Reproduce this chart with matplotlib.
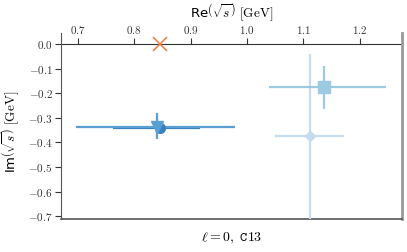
import numpy as np
import matplotlib
matplotlib.use("Agg")
import matplotlib.pyplot as plt
from matplotlib.ticker import FuncFormatter, MultipleLocator

plt.rcParams['mathtext.fontset'] = 'cm'
plt.rcParams['font.family'] = 'DejaVu Sans'

# pole positions Re / Im (GeV) with asymmetric errors
labels = ['tri', 'circ', 'square', 'diamond']
re_vals = [0.840, 0.845, 1.137, 1.111]
im_vals = [-0.335, -0.343, -0.175, -0.374]
re_lo = [0.143, 0.083, 0.098, 0.062]
re_hi = [0.138, 0.071, 0.109, 0.061]
im_lo = [0.050, 0.010, 0.089, 0.360]
im_hi = [0.055, 0.010, 0.087, 0.334]
markers = ['v', 'o', 's', 'D']
msizes = [8, 7, 8, 5.5]
colors = ['#5a9fd4', '#3a80c0', '#9ccae0', '#c6dbef']

# threshold / reference point
ref_re = [0.845]
ref_im = [0.0]

x_ticks = [0.7, 0.8, 0.9, 1.0, 1.1, 1.2]
y_ticks = [0.0, -0.1, -0.2, -0.3, -0.4, -0.5, -0.6, -0.7]

fig = plt.figure(figsize=(4.07, 2.52), dpi=100)
ax = fig.add_axes([0.150, 0.129, 0.838, 0.739])

order = [3, 2, 1, 0]
for i in order:
    ax.errorbar(re_vals[i], im_vals[i],
                xerr=[[re_lo[i]], [re_hi[i]]], yerr=[[im_lo[i]], [im_hi[i]]],
                fmt=markers[i], ms=msizes[i], color=colors[i], ecolor=colors[i],
                elinewidth=1.6, capsize=0, zorder=3)

ax.plot(ref_re, ref_im, 'x', color='#ee7b45', ms=10, mew=1.1, clip_on=False, zorder=5)

ax.set_xlim(0.67, 1.275)
ax.set_ylim(-0.714, 0.045)

fmt = FuncFormatter(lambda v, p: r'$%.1f$' % (0.0 if abs(v) < 1e-9 else v))

# x axis drawn along Im = 0, ticks pointing up
sec = ax.secondary_xaxis(0.0, transform=ax.transData)
sec.set_alignment('top')
sec.set_xticks(x_ticks)
sec.xaxis.set_major_formatter(fmt)
sec.tick_params(axis='x', labelsize=8, length=4, width=0.8, color='#333333',
                labelcolor='#333333', pad=2, bottom=False, labelbottom=False)
sec.spines['top'].set_color('#333333')
sec.spines['top'].set_linewidth(0.8)

ax.spines['top'].set_visible(False)
ax.spines['left'].set_color('#555555')
ax.spines['bottom'].set_color('#555555')
ax.spines['bottom'].set_linewidth(1.2)
ax.spines['right'].set_color('#999999')
ax.spines['right'].set_linewidth(2.0)
ax.tick_params(axis='x', top=False, bottom=False, labeltop=False, labelbottom=False)

ax.set_yticks(y_ticks)
ax.yaxis.set_major_formatter(fmt)
ax.tick_params(axis='y', labelsize=8, length=4, width=0.8, color='#333333',
               labelcolor='#333333', pad=2, right=False)

ax.xaxis.set_label_position('top')
ax.set_xlabel(r'Re$\left(\sqrt{s}\right)$ $[\mathrm{GeV}]$', fontsize=9.5)
ax.xaxis.set_label_coords(0.5, 1.114)
ax.xaxis.label.set_va('center')
ax.set_ylabel(r'Im$\left(\sqrt{s}\right)$ $[\mathrm{GeV}]$', fontsize=9.5)
ax.yaxis.set_label_coords(-0.15, 0.47)
ax.yaxis.label.set_va('center')
ax.text(0.5, -0.1, r'$\ell = 0,\ \mathtt{C13}$', transform=ax.transAxes,
        ha='center', va='center', fontsize=10)

fig.savefig('out.png', dpi=100)
